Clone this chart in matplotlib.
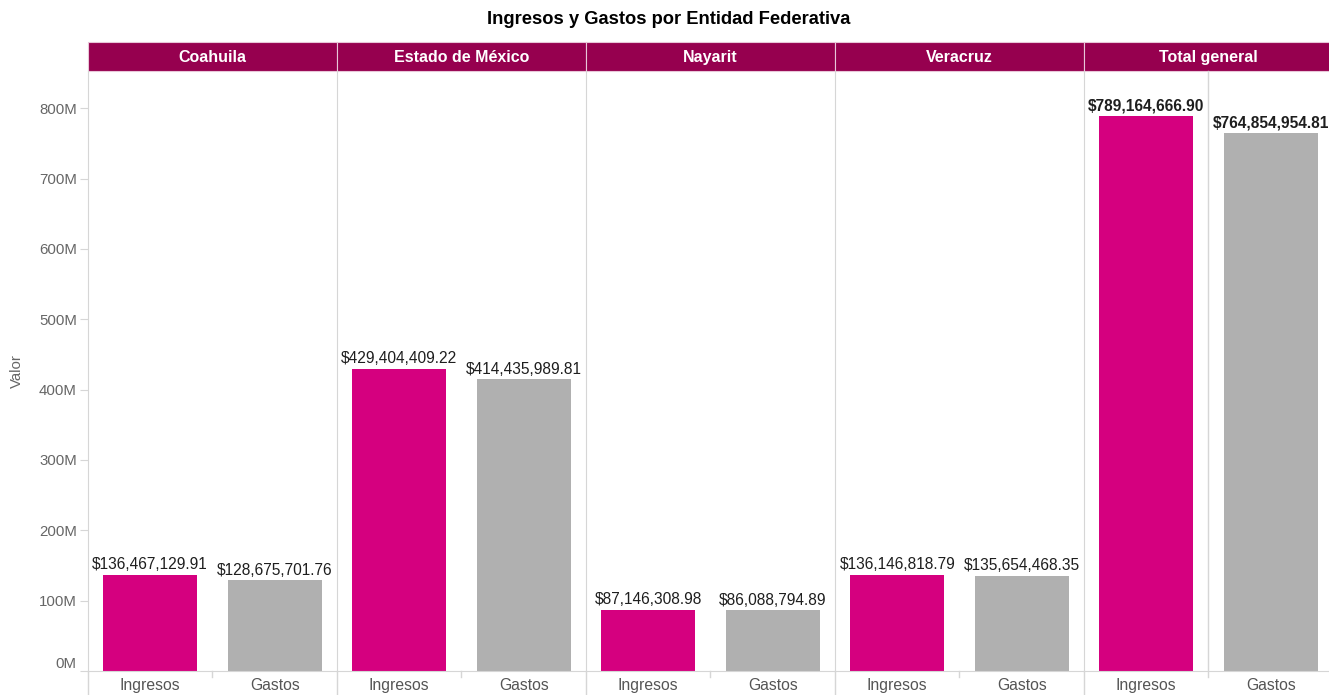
import matplotlib.pyplot as plt
from matplotlib.patches import Rectangle

plt.rcParams['font.family'] = ['Liberation Sans', 'DejaVu Sans']

# -- DATA
entidades = ["Coahuila", "Estado de México", "Nayarit", "Veracruz", "Total general"]
tipos = ["Ingresos", "Gastos"]
ingresos = [136467129.91, 429404409.22, 87146308.98, 136146818.79, 789164666.90]
gastos = [128675701.76, 414435989.81, 86088794.89, 135654468.35, 764854954.81]
yticks = [0, 100e6, 200e6, 300e6, 400e6, 500e6, 600e6, 700e6, 800e6]
ytick_labels = ["0M", "100M", "200M", "300M", "400M", "500M", "600M", "700M", "800M"]

# -- STYLE
HEADER = "#96004f"
C_ING = "#d5007f"
C_GAS = "#b0b0b0"
GRID = "#d6d6d6"
TXT_GRAY = "#666666"
H_FRAC = 29 / 600  # header height in axes fraction
B_FRAC = 24 / 600  # space under the baseline

fig, axes = plt.subplots(1, 5, figsize=(13.29, 6.95), dpi=100, sharey=True)
fig.subplots_adjust(left=0.0662, right=1333 / 1329, bottom=0.0345, top=0.898, wspace=0)

for i, ax in enumerate(axes):
    vals = [ingresos[i], gastos[i]]
    ax.bar([0, 1], vals, width=0.755, color=[C_ING, C_GAS], zorder=2)
    ax.set_xlim(-0.5, 1.5)
    ax.set_ylim(0, 853e6)

    bold = "bold" if entidades[i] == "Total general" else "normal"
    for x, v in zip([0, 1], vals):
        ax.annotate(f"${v:,.2f}", (x, v), xytext=(0, 2), textcoords="offset points",
                    ha="center", va="bottom", fontsize=11.2, color="#1e1e1e",
                    fontweight=bold)

    for s in ["top", "right"]:
        ax.spines[s].set_visible(False)
    ax.spines["bottom"].set_color(GRID)
    ax.spines["left"].set_color(GRID)

    # panel divider goes down to the figure bottom
    ax.plot([0, 0], [-B_FRAC, 0], transform=ax.transAxes, color=GRID, lw=1, clip_on=False)
    # divider between the two categories
    if entidades[i] == "Total general":
        ax.axvline(0.5, ymin=-0.01, ymax=1, color=GRID, lw=1, clip_on=False)
    else:
        ax.axvline(0.5, ymin=-0.01, ymax=0, color=GRID, lw=1, clip_on=False)

    # header band
    ax.add_patch(Rectangle((0, 1), 1, H_FRAC, transform=ax.transAxes, facecolor=HEADER,
                           edgecolor="#e8c6d8", lw=0.8, clip_on=False))
    ax.text(0.5, 1 + H_FRAC / 2 - 0.002, entidades[i], transform=ax.transAxes, ha="center",
            va="center", color="white", fontsize=11.5, fontweight="bold")

    ax.set_xticks([0, 1])
    ax.set_xticklabels(tipos, fontsize=11.3, color="#555555")
    ax.tick_params(axis="x", length=0, pad=5)
    if i > 0:
        ax.tick_params(axis="y", left=False, labelleft=False)

ax0 = axes[0]
ax0.set_yticks(yticks)
ax0.set_yticklabels(ytick_labels)
ax0.tick_params(axis="y", length=6, color=GRID, labelsize=10.8, labelcolor=TXT_GRAY, pad=2)
ax0.get_yticklabels()[0].set_va("bottom")
ax0.set_ylabel("Valor", fontsize=10.8, color=TXT_GRAY, labelpad=11)

fig.suptitle("Ingresos y Gastos por Entidad Federativa", x=669 / 1329, y=1 - 20 / 695,
             va="center", fontsize=13.2, fontweight="bold")

fig.savefig("out.png", dpi=100)
